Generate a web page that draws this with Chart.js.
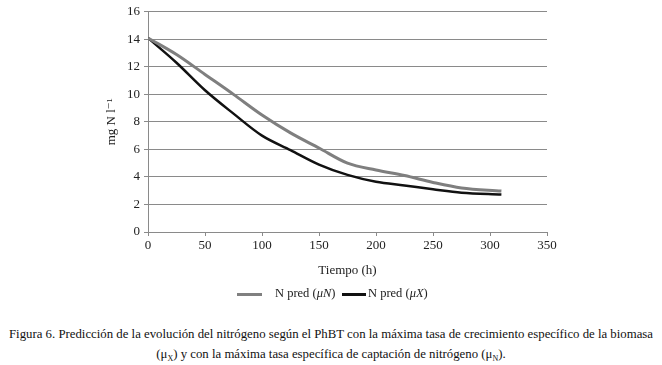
<!DOCTYPE html>
<html>
<head>
<meta charset="utf-8">
<script src="https://cdn.jsdelivr.net/npm/chart.js@4.4.1/dist/chart.umd.min.js"></script>
<style>
  html, body { margin: 0; padding: 0; background: #fff; }
  #wrap { position: relative; width: 662px; height: 365px; overflow: hidden; font-family: "Liberation Serif", "DejaVu Serif", serif; color: #222; }
  #c { position: absolute; left: 0; top: 0; }
  .leg { position: absolute; top: 286px; font-size: 12.5px; white-space: nowrap; }
  .legline { position: absolute; height: 3px; }
  #caption { position: absolute; left: 0; width: 662px; top: 324px; text-align: center; font-size: 12.8px; line-height: 20px; color: #111; }
  sub { font-size: 8px; vertical-align: -3px; }
</style>
</head>
<body>
<div id="wrap">
  <canvas id="c" width="662" height="310"></canvas>
  <div class="legline" style="left:237px; width:25px; top:293px; background:#808080;"></div>
  <div class="leg" style="left:275px;">N pred (<i>μN</i>)</div>
  <div class="legline" style="left:342px; width:24px; top:293px; background:#111;"></div>
  <div class="leg" style="left:368px;">N pred (<i>μX</i>)</div>
  <div id="caption">Figura 6. Predicción de la evolución del nitrógeno según el PhBT con la máxima tasa de crecimiento específico de la biomasa<br>(μ<sub>X</sub>) y con la máxima tasa específica de captación de nitrógeno (μ<sub>N</sub>).</div>
</div>
<script>
const hours   = [0, 25, 50, 75, 100, 125, 150, 175, 200, 225, 250, 275, 310];
const predMuN = [14.1, 12.9, 11.45, 10.0, 8.5, 7.2, 6.1, 5.0, 4.5, 4.1, 3.6, 3.2, 2.98];
const predMuX = [14.1, 12.3, 10.3, 8.6, 7.0, 5.95, 4.9, 4.15, 3.65, 3.38, 3.1, 2.85, 2.72];
const xTitle = 'Tiempo (h)';
const yTitle = 'mg N l\u207B\u00B9';

const pts = (ys) => hours.map((h, i) => ({ x: h, y: ys[i] }));
const font = { family: '"Liberation Serif", "DejaVu Serif", serif', size: 13 };

new Chart(document.getElementById('c'), {
  type: 'line',
  data: {
    datasets: [
      { label: 'N pred (μN)', data: pts(predMuN), borderColor: '#7f7f7f', borderWidth: 3, pointRadius: 0, tension: 0.4, cubicInterpolationMode: 'monotone' },
      { label: 'N pred (μX)', data: pts(predMuX), borderColor: '#111111', borderWidth: 2.5, pointRadius: 0, tension: 0.4, cubicInterpolationMode: 'monotone' }
    ]
  },
  options: {
    responsive: false,
    animation: false,
    events: [],
    layout: { padding: { left: 104, right: 115, top: 5, bottom: 32 } },
    plugins: { legend: { display: false }, tooltip: { enabled: false } },
    scales: {
      x: {
        type: 'linear', min: 0, max: 350,
        ticks: { stepSize: 50, color: '#222', font: font, padding: 2 },
        grid: { drawOnChartArea: false, drawTicks: true, tickLength: 4, color: '#8a8a8a' },
        border: { color: '#8a8a8a', width: 1 },
        title: { display: true, text: xTitle, color: '#222', font: { family: font.family, size: 13 }, padding: { top: 6, bottom: 0 } },
        afterFit: (s) => { s.height = 46; }
      },
      y: {
        min: 0, max: 16,
        ticks: { stepSize: 2, color: '#222', font: font, padding: 4 },
        grid: { color: '#8a8a8a', drawTicks: true, tickLength: 4 },
        border: { color: '#8a8a8a', width: 1 },
        title: { display: true, text: yTitle, color: '#222', font: { family: font.family, size: 13 }, padding: { top: 0, bottom: 4 } },
        afterFit: (s) => { s.width = 44; }
      }
    }
  }
});
</script>
</body>
</html>
